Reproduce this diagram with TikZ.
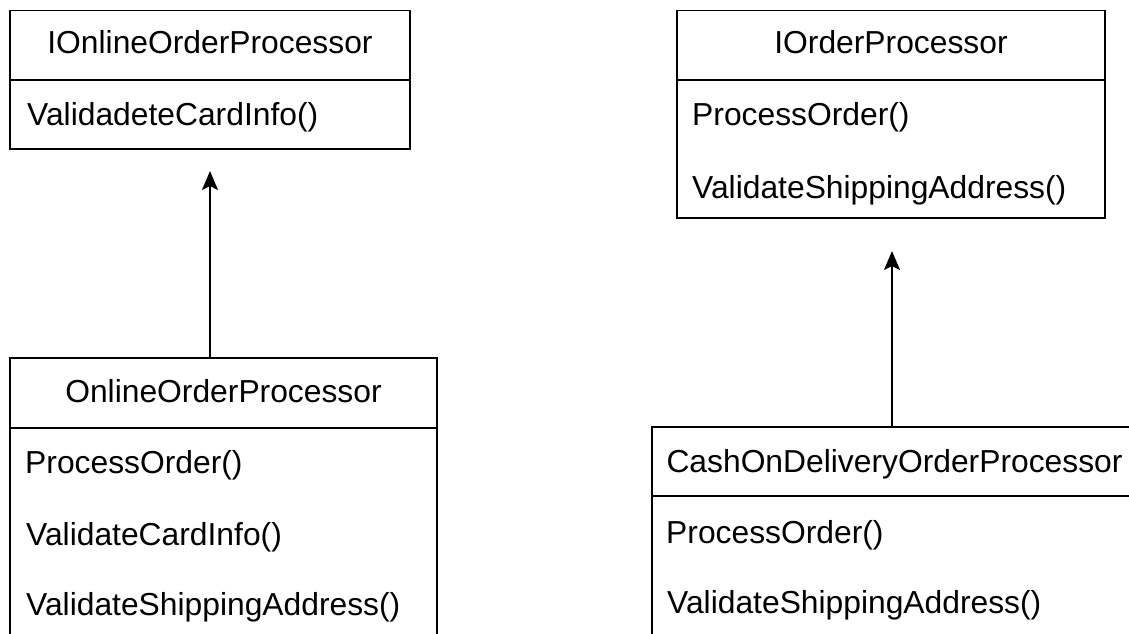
\documentclass[tikz,border=0pt]{standalone}
\usepackage{fontspec}
\setmainfont{Liberation Sans}
\usetikzlibrary{arrows.meta}
\begin{document}
\begin{tikzpicture}[x=1pt,y=-1pt,
  boxpart/.style={draw=black,line width=1.6pt,fill=white},
  lbl/.style={inner sep=0pt,font=\fontsize{31.8}{38}\selectfont,text=black},
  inherit/.style={draw=black,line width=1.8pt,-{Stealth[length=19pt,width=16pt,inset=4pt]}}]
\useasboundingbox (0,0) rectangle (1129,633);
\fill[white] (0,0) rectangle (1129,633);
% Box A
\draw[boxpart] (10,10.5) rectangle (410,80);
\draw[boxpart] (10,80) rectangle (410,149);
\node[lbl,anchor=base] (ahdr) at (210,53) {IOnlineOrderProcessor};
\node[lbl,anchor=base west] (a1) at (27,125) {ValidadeteCardInfo()};
% Box B
\draw[boxpart] (677,10.5) rectangle (1105,80);
\draw[boxpart] (677,80) rectangle (1105,218);
\node[lbl,anchor=base] (bhdr) at (891,53) {IOrderProcessor};
\node[lbl,anchor=base west] (b1) at (692,125) {ProcessOrder()};
\node[lbl,anchor=base west] (b2) at (692,198) {ValidateShippingAddress()};
% Box C
\draw[boxpart] (10,358) rectangle (437,428);
\draw[boxpart] (10,428) rectangle (437,700);
\node[lbl,anchor=base] (chdr) at (223.5,402) {OnlineOrderProcessor};
\node[lbl,anchor=base west] (c1) at (25,473) {ProcessOrder()};
\node[lbl,anchor=base west] (c2) at (26,545) {ValidateCardInfo()};
\node[lbl,anchor=base west] (c3) at (26,615) {ValidateShippingAddress()};
% Box D
\draw[boxpart] (652,427) rectangle (1137,496);
\draw[boxpart] (652,496) rectangle (1137,700);
\node[lbl,anchor=base] (dhdr) at (894.5,472) {CashOnDeliveryOrderProcessor};
\node[lbl,anchor=base west] (d1) at (666,543) {ProcessOrder()};
\node[lbl,anchor=base west] (d2) at (667,613) {ValidateShippingAddress()};
% connectors
\coordinate (cTop) at (210,358);
\coordinate (aTip) at (210,171);
\coordinate (dTop) at (892,427);
\coordinate (bTip) at (892,251);
\draw[inherit] (cTop) -- (aTip);
\draw[inherit] (dTop) -- (bTip);
\end{tikzpicture}
\end{document}
